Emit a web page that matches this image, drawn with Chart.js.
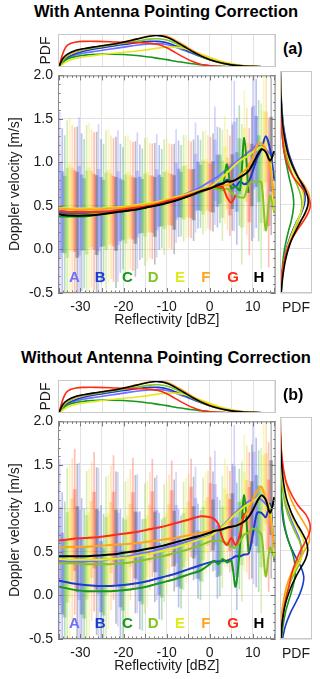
<!DOCTYPE html>
<html>
<head>
<meta charset="utf-8">
<script src="https://cdn.jsdelivr.net/npm/chart.js@4.4.0/dist/chart.umd.min.js"></script>
<style>
body { margin: 0; background: #fff; font-family: "Liberation Sans", Arial, sans-serif; }
#wrap { position: relative; width: 320px; height: 679px; overflow: hidden; }
canvas { position: absolute; }
.title { position: absolute; left: 0; width: 332px; text-align: center; font-weight: bold; font-size: 16.5px; line-height: 20px; color: #000; }
.tag { position: absolute; font-weight: bold; font-size: 16px; line-height: 20px; color: #000; }
</style>
</head>
<body>
<div id="wrap"></div>
<script>
// series A..H
const seriesNames = ['A', 'B', 'C', 'D', 'E', 'F', 'G', 'H']
const seriesColors = ['#6e6eff', '#1b3bc8', '#16961a', '#84c424', '#e2ea1e', '#ffa31c', '#ff2b14', '#000000']
const seriesSpread = [1.12, 0.95, 0.9, 1.05, 1.02, 0.95, 0.95, 1.0]

// axes
const xMin = -35.2, xMax = 15.3
const vMin = -0.5, vMax = 2.0
const gridX = [-35, -30, -25, -20, -15, -10, -5, 0, 5, 10, 15]
const gridV = [-0.5, 0, 0.5, 1.0, 1.5, 2.0]
const letterX = [-31.4, -25.4, -19.1, -13.1, -6.9, -0.9, 5.4, 11.4]
const letterY = -0.33

// box plot bins (position of series A bar in each cluster) and offset of each series inside a cluster
const binStart = [-34.8, -30.3, -25.8, -21.3, -16.8, -12.3, -7.8, -3.3, 1.2, 5.7, 10.2]
const barShift = [0, 0.58, 1.16, 1.74, 2.32, 2.9, 3.48, 4.06]

// panel (a) box medians per series
const midA_a = [0.46, 0.45, 0.45, 0.47, 0.51, 0.56, 0.66, 0.76, 0.90, 1.06, 1.20]
const midB_a = [0.44, 0.43, 0.43, 0.45, 0.50, 0.55, 0.64, 0.72, 0.78, 0.77, 1.15]
const midC_a = [0.41, 0.41, 0.42, 0.45, 0.49, 0.54, 0.62, 0.70, 0.80, 0.95, 0.95]
const midD_a = [0.43, 0.43, 0.44, 0.46, 0.50, 0.55, 0.64, 0.70, 0.68, 0.62, 0.78]
const midE_a = [0.49, 0.48, 0.48, 0.50, 0.53, 0.58, 0.66, 0.73, 0.86, 1.03, 1.18]
const midF_a = [0.48, 0.47, 0.47, 0.49, 0.52, 0.57, 0.64, 0.72, 0.75, 0.88, 1.20]
const midG_a = [0.45, 0.44, 0.44, 0.47, 0.51, 0.56, 0.63, 0.70, 0.68, 0.65, 0.70]
const midH_a = [0.41, 0.40, 0.41, 0.44, 0.48, 0.53, 0.62, 0.71, 0.77, 0.85, 1.12]
const boxUp_a = [0.48, 0.45, 0.42, 0.38, 0.35, 0.32, 0.30, 0.30, 0.32, 0.36, 0.40]
const boxDown_a = [0.50, 0.46, 0.42, 0.37, 0.33, 0.30, 0.28, 0.28, 0.30, 0.35, 0.45]
const whiskUp_a = [1.00, 0.95, 0.88, 0.80, 0.74, 0.68, 0.64, 0.62, 0.66, 0.78, 0.85]
const whiskDown_a = [1.00, 0.95, 0.85, 0.75, 0.65, 0.58, 0.52, 0.50, 0.55, 0.75, 0.95]

// panel (b) box medians per series
const midA_b = [0.50, 0.49, 0.50, 0.52, 0.56, 0.62, 0.70, 0.78, 0.92, 1.08, 1.20]
const midB_b = [0.28, 0.24, 0.22, 0.23, 0.26, 0.30, 0.38, 0.46, 0.50, 0.55, 1.00]
const midC_b = [0.22, 0.17, 0.16, 0.17, 0.21, 0.26, 0.34, 0.42, 0.50, 0.75, 0.90]
const midD_b = [0.47, 0.46, 0.46, 0.47, 0.51, 0.56, 0.63, 0.70, 0.68, 0.72, 0.80]
const midE_b = [0.52, 0.51, 0.51, 0.53, 0.56, 0.62, 0.70, 0.78, 0.90, 1.05, 1.20]
const midF_b = [0.67, 0.66, 0.67, 0.69, 0.71, 0.74, 0.79, 0.84, 0.86, 0.98, 1.25]
const midG_b = [0.78, 0.77, 0.79, 0.82, 0.86, 0.90, 0.96, 1.00, 0.80, 0.90, 0.95]
const midH_b = [0.56, 0.55, 0.56, 0.58, 0.61, 0.65, 0.72, 0.80, 0.85, 0.95, 1.15]
const boxUp_b = [0.46, 0.44, 0.42, 0.38, 0.35, 0.32, 0.30, 0.30, 0.32, 0.36, 0.40]
const boxDown_b = [0.52, 0.48, 0.43, 0.38, 0.34, 0.31, 0.29, 0.28, 0.30, 0.35, 0.45]
const whiskUp_b = [0.95, 0.92, 0.86, 0.80, 0.74, 0.68, 0.64, 0.62, 0.66, 0.78, 0.85]
const whiskDown_b = [1.05, 1.00, 0.88, 0.78, 0.68, 0.60, 0.54, 0.52, 0.56, 0.75, 0.95]

// mean doppler velocity lines
const lineX = [-35, -32, -29, -26, -23, -20, -17, -14, -11, -8, -5, -2, 0, 1, 2, 3, 4, 5, 6, 7, 8, 9, 10, 11, 12, 13, 14, 15]
const lineA_a = [0.44, 0.43, 0.43, 0.43, 0.44, 0.46, 0.48, 0.51, 0.55, 0.59, 0.65, 0.72, 0.78, 0.81, 0.84, 0.88, 0.92, 0.96, 1.00, 1.04, 1.08, 1.12, 1.16, 1.20, 1.18, 1.15, 1.10, 1.12]
const lineB_a = [0.42, 0.41, 0.41, 0.42, 0.43, 0.45, 0.47, 0.50, 0.54, 0.58, 0.63, 0.68, 0.72, 0.74, 0.75, 0.76, 0.80, 0.78, 0.72, 0.78, 0.75, 0.78, 0.90, 1.05, 1.15, 1.30, 1.15, 0.80]
const lineC_a = [0.38, 0.38, 0.38, 0.40, 0.42, 0.44, 0.46, 0.49, 0.53, 0.57, 0.61, 0.66, 0.70, 0.71, 0.70, 0.72, 0.98, 0.70, 0.72, 0.68, 1.28, 0.65, null, null, null, null, null, null]
const lineD_a = [0.40, 0.40, 0.40, 0.41, 0.43, 0.45, 0.47, 0.50, 0.53, 0.57, 0.62, 0.67, 0.70, 0.70, 0.69, 0.68, 0.70, 0.65, 0.62, 0.60, 0.60, 0.75, 0.78, 0.78, 0.77, 0.22, 0.62, 0.42]
const lineE_a = [0.48, 0.47, 0.47, 0.47, 0.48, 0.49, 0.51, 0.53, 0.56, 0.60, 0.64, 0.69, 0.72, 0.75, 0.79, 0.83, 0.88, 0.93, 0.98, 1.02, 1.05, 1.08, 1.12, 1.15, 1.18, 1.12, 1.05, 0.45]
const lineF_a = [0.47, 0.46, 0.46, 0.46, 0.47, 0.48, 0.50, 0.52, 0.55, 0.59, 0.63, 0.68, 0.71, 0.72, 0.72, 0.73, 0.74, 0.76, 0.80, 0.85, 0.90, 0.95, 1.05, 1.20, 1.22, 1.15, 0.95, 0.58]
const lineG_a = [0.44, 0.43, 0.43, 0.43, 0.44, 0.46, 0.48, 0.50, 0.54, 0.58, 0.62, 0.67, 0.70, 0.72, 0.72, 0.72, 0.60, 0.54, 0.62, null, null, null, null, null, null, null, null, null]
const lineH_a = [0.40, 0.39, 0.39, 0.40, 0.42, 0.44, 0.46, 0.49, 0.52, 0.56, 0.61, 0.67, 0.70, 0.72, 0.74, 0.76, 0.78, 0.78, 0.80, 0.83, 0.86, 0.90, 0.98, 1.08, 1.15, 1.12, 1.02, 1.13]

const lineA_b = [0.40, 0.39, 0.39, 0.40, 0.42, 0.44, 0.47, 0.50, 0.54, 0.58, 0.62, 0.66, 0.69, 0.72, 0.76, 0.80, 0.85, 0.90, 0.95, 1.00, 1.04, 1.08, 1.10, 1.12, 1.10, 1.05, 1.00, 1.05]
const lineB_b = [0.17, 0.14, 0.12, 0.11, 0.11, 0.12, 0.14, 0.17, 0.21, 0.25, 0.30, 0.35, 0.38, 0.39, 0.39, 0.40, 0.40, 0.42, 0.45, 0.45, 0.47, 0.48, 0.70, 0.95, 0.95, 0.90, 1.05, 0.40]
const lineC_b = [0.10, 0.07, 0.05, 0.05, 0.05, 0.06, 0.08, 0.11, 0.15, 0.19, 0.24, 0.29, 0.36, 0.40, 0.36, 0.42, 0.38, 0.40, 0.10, 0.55, 1.15, 0.50, null, null, null, null, null, null]
const lineD_b = [0.37, 0.37, 0.36, 0.36, 0.36, 0.37, 0.39, 0.42, 0.45, 0.49, 0.53, 0.58, 0.62, 0.63, 0.63, 0.62, 0.60, 0.56, 0.55, 0.62, 0.70, 0.72, 0.77, 0.75, 0.70, 0.22, 0.55, 0.42]
const lineE_b = [0.42, 0.41, 0.41, 0.41, 0.42, 0.43, 0.45, 0.48, 0.51, 0.55, 0.60, 0.65, 0.68, 0.71, 0.75, 0.79, 0.84, 0.89, 0.94, 0.98, 1.02, 1.05, 1.08, 1.12, 1.15, 1.10, 1.00, 0.45]
const lineF_b = [0.55, 0.56, 0.56, 0.57, 0.58, 0.59, 0.60, 0.62, 0.64, 0.66, 0.69, 0.72, 0.74, 0.75, 0.75, 0.76, 0.77, 0.78, 0.80, 0.84, 0.90, 0.98, 1.10, 1.20, 1.25, 1.10, 0.90, 0.55]
const lineG_b = [0.63, 0.65, 0.66, 0.67, 0.69, 0.71, 0.73, 0.76, 0.79, 0.83, 0.87, 0.91, 0.90, 0.88, 0.82, 0.65, 0.58, 0.66, 0.58, 0.70, 0.95, null, null, null, null, null, null, null]
const lineH_b = [0.45, 0.45, 0.45, 0.46, 0.47, 0.49, 0.51, 0.54, 0.57, 0.61, 0.65, 0.69, 0.72, 0.74, 0.75, 0.76, 0.78, 0.79, 0.80, 0.82, 0.85, 0.90, 0.98, 1.08, 1.15, 1.10, 0.95, 1.13]

// reflectivity PDF (top panels, same in a and b)
const pdfX = [-35, -34, -33, -31, -29, -26, -23, -20, -17, -14, -12, -10, -8, -6, -4, -2, 0, 2, 4, 6, 8, 10, 12, 15]
const pdfA = [0, 0.18, 0.28, 0.38, 0.44, 0.50, 0.56, 0.62, 0.68, 0.72, 0.73, 0.70, 0.62, 0.52, 0.42, 0.32, 0.23, 0.16, 0.10, 0.06, 0.04, 0.02, 0.01, 0]
const pdfB = [0, 0.20, 0.30, 0.42, 0.50, 0.58, 0.64, 0.70, 0.76, 0.80, 0.80, 0.76, 0.66, 0.55, 0.43, 0.32, 0.23, 0.15, 0.09, 0.05, 0.03, 0.02, 0.01, 0]
const pdfC = [0, 0.15, 0.25, 0.33, 0.37, 0.40, 0.40, 0.39, 0.36, 0.31, 0.27, 0.23, 0.18, 0.14, 0.10, 0.07, 0.04, 0.02, 0.01, 0, 0, 0, 0, 0]
const pdfD = [0, 0.22, 0.35, 0.48, 0.55, 0.62, 0.68, 0.74, 0.80, 0.87, 0.88, 0.84, 0.74, 0.60, 0.46, 0.33, 0.22, 0.14, 0.08, 0.05, 0.03, 0.02, 0.01, 0]
const pdfE = [0, 0.10, 0.18, 0.27, 0.32, 0.37, 0.42, 0.46, 0.50, 0.55, 0.59, 0.62, 0.62, 0.58, 0.50, 0.40, 0.30, 0.20, 0.13, 0.08, 0.04, 0.02, 0.01, 0]
const pdfF = [0, 0.25, 0.38, 0.50, 0.57, 0.64, 0.71, 0.78, 0.88, 0.97, 1.00, 0.96, 0.84, 0.68, 0.52, 0.37, 0.25, 0.16, 0.10, 0.06, 0.03, 0.02, 0.01, 0]
const pdfG = [0, 0.45, 0.68, 0.78, 0.80, 0.80, 0.79, 0.77, 0.76, 0.74, 0.70, 0.60, 0.45, 0.30, 0.17, 0.08, 0.04, 0.02, 0.01, 0, 0, 0, 0, 0]
const pdfH = [0, 0.28, 0.40, 0.52, 0.58, 0.64, 0.70, 0.78, 0.87, 0.96, 0.98, 0.93, 0.80, 0.64, 0.48, 0.34, 0.23, 0.15, 0.09, 0.05, 0.03, 0.02, 0.01, 0]

// doppler velocity PDF (right panels)
const vPdfY = [-0.5, -0.35, -0.2, -0.1, 0, 0.1, 0.2, 0.3, 0.4, 0.5, 0.6, 0.7, 0.8, 0.9, 1.0, 1.1, 1.25, 1.4, 1.6, 1.8, 2.0]
const vPdfA_a = [0.03, 0.06, 0.10, 0.15, 0.21, 0.30, 0.41, 0.54, 0.68, 0.77, 0.79, 0.72, 0.60, 0.47, 0.36, 0.27, 0.18, 0.11, 0.06, 0.03, 0.01]
const vPdfB_a = [0.03, 0.06, 0.10, 0.15, 0.22, 0.31, 0.42, 0.55, 0.70, 0.80, 0.82, 0.74, 0.60, 0.47, 0.35, 0.26, 0.17, 0.10, 0.05, 0.03, 0.01]
const vPdfC_a = [0.03, 0.05, 0.08, 0.11, 0.15, 0.21, 0.28, 0.36, 0.42, 0.45, 0.43, 0.37, 0.30, 0.24, 0.18, 0.13, 0.08, 0.05, 0.03, 0.01, 0.01]
const vPdfD_a = [0.04, 0.07, 0.12, 0.17, 0.24, 0.33, 0.45, 0.58, 0.68, 0.72, 0.68, 0.58, 0.45, 0.34, 0.25, 0.18, 0.11, 0.07, 0.04, 0.02, 0.01]
const vPdfE_a = [0.03, 0.06, 0.11, 0.16, 0.23, 0.32, 0.43, 0.55, 0.68, 0.76, 0.77, 0.68, 0.55, 0.42, 0.31, 0.23, 0.14, 0.09, 0.05, 0.02, 0.01]
const vPdfF_a = [0.03, 0.06, 0.11, 0.17, 0.25, 0.36, 0.50, 0.66, 0.84, 0.95, 0.96, 0.82, 0.62, 0.45, 0.32, 0.22, 0.13, 0.08, 0.04, 0.02, 0.01]
const vPdfG_a = [0.02, 0.05, 0.10, 0.16, 0.25, 0.38, 0.55, 0.75, 0.92, 1.00, 0.90, 0.68, 0.45, 0.30, 0.20, 0.13, 0.08, 0.04, 0.02, 0.01, 0]
const vPdfH_a = [0.04, 0.08, 0.14, 0.20, 0.28, 0.38, 0.52, 0.67, 0.82, 0.92, 0.90, 0.78, 0.60, 0.45, 0.33, 0.24, 0.15, 0.09, 0.05, 0.02, 0.01]

const vPdfA_b = [0.02, 0.05, 0.09, 0.13, 0.19, 0.27, 0.38, 0.52, 0.64, 0.70, 0.66, 0.55, 0.42, 0.31, 0.22, 0.15, 0.09, 0.05, 0.03, 0.01, 0]
const vPdfB_b = [0.08, 0.18, 0.35, 0.50, 0.64, 0.74, 0.78, 0.70, 0.55, 0.40, 0.28, 0.19, 0.12, 0.08, 0.06, 0.04, 0.03, 0.02, 0.01, 0, 0]
const vPdfC_b = [0.05, 0.10, 0.18, 0.26, 0.35, 0.43, 0.49, 0.50, 0.46, 0.38, 0.28, 0.20, 0.14, 0.10, 0.07, 0.05, 0.03, 0.02, 0.01, 0, 0]
const vPdfD_b = [0.02, 0.05, 0.09, 0.14, 0.20, 0.29, 0.42, 0.57, 0.69, 0.72, 0.64, 0.50, 0.37, 0.26, 0.18, 0.12, 0.07, 0.04, 0.02, 0.01, 0]
const vPdfE_b = [0.02, 0.04, 0.08, 0.12, 0.18, 0.26, 0.37, 0.52, 0.68, 0.79, 0.78, 0.66, 0.50, 0.36, 0.25, 0.17, 0.10, 0.06, 0.03, 0.01, 0]
const vPdfF_b = [0.01, 0.03, 0.06, 0.10, 0.15, 0.22, 0.32, 0.45, 0.62, 0.82, 0.96, 0.94, 0.80, 0.62, 0.46, 0.33, 0.20, 0.11, 0.05, 0.02, 0.01]
const vPdfG_b = [0.03, 0.06, 0.11, 0.16, 0.22, 0.30, 0.36, 0.44, 0.55, 0.68, 0.84, 0.97, 0.98, 0.85, 0.60, 0.42, 0.22, 0.12, 0.05, 0.02, 0.01]
const vPdfH_b = [0.03, 0.06, 0.12, 0.18, 0.27, 0.38, 0.52, 0.68, 0.84, 0.91, 0.86, 0.72, 0.55, 0.40, 0.29, 0.20, 0.12, 0.07, 0.03, 0.01, 0]

const panels = [
    {
        top: 0, title: 'With Antenna Pointing Correction', tag: '(a)',
        mids: [midA_a, midB_a, midC_a, midD_a, midE_a, midF_a, midG_a, midH_a],
        boxUp: boxUp_a, boxDown: boxDown_a, whiskUp: whiskUp_a, whiskDown: whiskDown_a,
        lines: [lineA_a, lineB_a, lineC_a, lineD_a, lineE_a, lineF_a, lineG_a, lineH_a],
        vPdf: [vPdfA_a, vPdfB_a, vPdfC_a, vPdfD_a, vPdfE_a, vPdfF_a, vPdfG_a, vPdfH_a]
    },
    {
        top: 346, title: 'Without Antenna Pointing Correction', tag: '(b)',
        mids: [midA_b, midB_b, midC_b, midD_b, midE_b, midF_b, midG_b, midH_b],
        boxUp: boxUp_b, boxDown: boxDown_b, whiskUp: whiskUp_b, whiskDown: whiskDown_b,
        lines: [lineA_b, lineB_b, lineC_b, lineD_b, lineE_b, lineF_b, lineG_b, lineH_b],
        vPdf: [vPdfA_b, vPdfB_b, vPdfC_b, vPdfD_b, vPdfE_b, vPdfF_b, vPdfG_b, vPdfH_b]
    }
]
const topPdf = [pdfA, pdfB, pdfC, pdfD, pdfE, pdfF, pdfG, pdfH]

const FONT = '"Liberation Sans", Arial, Helvetica, sans-serif'
Chart.defaults.font.family = FONT
Chart.defaults.color = '#1a1a1a'
Chart.defaults.animation = false

const rgba = (hex, a) => {
    const n = parseInt(hex.slice(1), 16)
    return `rgba(${n >> 16},${(n >> 8) & 255},${n & 255},${a})`
}

//frame + inside tick marks
const framePlugin = {
    id: 'frame',
    afterDatasetsDraw(chart, args, opts) {
        const { ctx, chartArea: a } = chart
        ctx.save()
        if (opts.minor) {
            const sx = chart.scales.x, sy = chart.scales.y
            ctx.strokeStyle = '#777'
            ctx.lineWidth = 1
            ctx.beginPath()
            for (let v = -35; v <= 15; v++) {
                const px = Math.round(sx.getPixelForValue(v)) + 0.5
                const len = v % 5 === 0 ? 5 : 2.5
                ctx.moveTo(px, a.bottom); ctx.lineTo(px, a.bottom - len)
                ctx.moveTo(px, a.top); ctx.lineTo(px, a.top + len)
            }
            for (let k = -5; k <= 20; k++) {
                const py = Math.round(sy.getPixelForValue(k / 10)) + 0.5
                const len = k % 5 === 0 ? 5 : 2.5
                ctx.moveTo(a.left, py); ctx.lineTo(a.left + len, py)
                ctx.moveTo(a.right, py); ctx.lineTo(a.right - len, py)
            }
            ctx.stroke()
        }
        ctx.strokeStyle = opts.color || '#999'
        ctx.lineWidth = 1
        ctx.strokeRect(a.left + 0.5, a.top + 0.5, a.right - a.left - 1, a.bottom - a.top - 1)
        ctx.restore()
    }
}

// series letters inside the main plot
const letterPlugin = {
    id: 'letters',
    afterDatasetsDraw(chart) {
        const { ctx } = chart
        const sx = chart.scales.x, sy = chart.scales.y
        ctx.save()
        ctx.font = 'bold 15px ' + FONT
        ctx.textAlign = 'center'
        ctx.textBaseline = 'middle'
        seriesNames.forEach((n, i) => {
            ctx.fillStyle = seriesColors[i]
            ctx.fillText(n, sx.getPixelForValue(letterX[i]), sy.getPixelForValue(letterY))
        })
        ctx.restore()
    }
}

const wrap = document.getElementById('wrap')
function addCanvas(left, top, w, h) {
    const c = document.createElement('canvas')
    c.width = w; c.height = h
    c.style.left = left + 'px'; c.style.top = top + 'px'
    c.style.width = w + 'px'; c.style.height = h + 'px'
    wrap.appendChild(c)
    return c
}
function addText(cls, text, left, top) {
    const d = document.createElement('div')
    d.className = cls
    d.textContent = text
    d.style.top = top + 'px'
    if (left !== null) d.style.left = left + 'px'
    wrap.appendChild(d)
}

const tickFont = { size: 14, family: FONT }

function drawPanel(p) {
    const o = p.top
    addText('title', p.title, null, o + 1)
    addText('tag', p.tag, 283, o + 39)

    // top reflectivity pdf
    new Chart(addCanvas(0, o + 28, 280, 42), {
        type: 'scatter',
        data: {
            datasets: topPdf.map((vals, i) => ({
                data: pdfX.map((x, k) => ({ x: x, y: vals[k] })),
                showLine: true, borderColor: seriesColors[i], borderWidth: 1.6,
                pointRadius: 0, tension: 0.4, order: 10 - i
            }))
        },
        options: {
            responsive: false, events: [],
            layout: { padding: { top: 6, right: 4, left: 0, bottom: 0 }, autoPadding: false },
            plugins: { legend: { display: false }, tooltip: { enabled: false }, frame: { color: '#c8c8c8' } },
            scales: {
                x: {
                    type: 'linear', min: xMin, max: xMax,
                    afterBuildTicks: s => { s.ticks = gridX.map(v => ({ value: v })) },
                    afterFit: s => { s.height = 3 },
                    ticks: { display: false },
                    grid: { color: '#e2e2e2', drawTicks: false },
                    border: { display: false }
                },
                y: {
                    min: 0, max: 1.03,
                    afterFit: s => { s.width = 58 },
                    ticks: { display: false },
                    grid: { display: false },
                    border: { display: false },
                    title: { display: true, text: 'PDF', font: tickFont, color: '#1a1a1a', padding: { top: 38, bottom: 0 } }
                }
            }
        },
        plugins: [framePlugin]
    })

    // main box plots + mean lines
    const datasets = []
    for (let i = 0; i < 8; i++) {
        const sp = seriesSpread[i]
        datasets.push({
            type: 'bar', order: 40,
            data: binStart.map((b, k) => ({ x: b + barShift[i], y: [p.mids[i][k] - p.whiskDown[k] * sp, p.mids[i][k] + p.whiskUp[k] * sp] })),
            backgroundColor: rgba(seriesColors[i], i === 7 ? 0.25 : 0.3),
            barThickness: 1, grouped: false
        })
        datasets.push({
            type: 'bar', order: 30,
            data: binStart.map((b, k) => ({ x: b + barShift[i], y: [p.mids[i][k] - p.boxDown[k] * sp, p.mids[i][k] + p.boxUp[k] * sp] })),
            backgroundColor: rgba(seriesColors[i], i === 7 ? 0.27 : 0.3),
            barThickness: 3, grouped: false
        })
    }
    for (let i = 0; i < 8; i++) {
        datasets.push({
            type: 'line', order: 10 - i,
            data: lineX.map((x, k) => ({ x: x, y: p.lines[i][k] })),
            borderColor: seriesColors[i], borderWidth: 2, pointRadius: 0,
            tension: 0.3, spanGaps: false
        })
    }
    new Chart(addCanvas(0, o + 62, 280, 270), {
        type: 'bar',
        data: { datasets: datasets },
        options: {
            responsive: false, events: [],
            layout: { padding: { top: 9, right: 4, left: 0, bottom: 0 }, autoPadding: false },
            plugins: { legend: { display: false }, tooltip: { enabled: false }, frame: { color: '#8a8a8a', minor: true } },
            scales: {
                x: {
                    type: 'linear', min: xMin, max: xMax, offset: false,
                    afterBuildTicks: s => { s.ticks = gridX.map(v => ({ value: v })) },
                    afterFit: s => { s.height = 39 },
                    grid: { color: '#e2e2e2', drawTicks: false, offset: false },
                    border: { display: false },
                    ticks: { padding: 5.6, font: tickFont, color: '#1a1a1a', autoSkip: false, maxRotation: 0, callback: v => v % 10 === 0 ? String(v) : '' },
                    title: { display: true, text: 'Reflectivity [dBZ]', font: tickFont, color: '#1a1a1a', padding: { top: 0, bottom: 3.6 } }
                },
                y: {
                    type: 'linear', min: vMin, max: vMax,
                    afterBuildTicks: s => { s.ticks = gridV.map(v => ({ value: v })) },
                    afterFit: s => { s.width = 58 },
                    grid: { color: '#e2e2e2', drawTicks: false },
                    border: { display: false },
                    ticks: { padding: 5, font: tickFont, color: '#1a1a1a', callback: v => v.toFixed(1) },
                    title: { display: true, text: 'Doppler velocity [m/s]', font: tickFont, color: '#1a1a1a', padding: { top: 6.6, bottom: 0 } }
                }
            }
        },
        plugins: [framePlugin, letterPlugin]
    })

    // right doppler velocity pdf
    new Chart(addCanvas(278, o + 62, 42, 270), {
        type: 'scatter',
        data: {
            datasets: p.vPdf.map((vals, i) => ({
                data: vPdfY.map((v, k) => ({ x: vals[k], y: v })),
                showLine: true, borderColor: seriesColors[i], borderWidth: 1.6,
                pointRadius: 0, tension: 0.4, order: 10 - i
            }))
        },
        options: {
            responsive: false, events: [],
            layout: { padding: { top: 9, right: 8, left: 0, bottom: 0 }, autoPadding: false },
            plugins: { legend: { display: false }, tooltip: { enabled: false }, frame: { color: '#c8c8c8' } },
            scales: {
                x: {
                    min: 0, max: 1.05,
                    afterFit: s => { s.height = 39 },
                    ticks: { display: false },
                    grid: { display: false },
                    border: { display: false },
                    title: { display: true, text: 'PDF', font: tickFont, color: '#1a1a1a', padding: { top: 0, bottom: 15.6 } }
                },
                y: {
                    min: vMin, max: vMax,
                    afterBuildTicks: s => { s.ticks = gridV.map(v => ({ value: v })) },
                    afterFit: s => { s.width = 2 },
                    ticks: { display: false },
                    grid: { color: '#e2e2e2', drawTicks: false },
                    border: { display: false }
                }
            }
        },
        plugins: [framePlugin]
    })
}

document.addEventListener('DOMContentLoaded', () => {
    panels.forEach(drawPanel)
})
</script>
</body>
</html>
